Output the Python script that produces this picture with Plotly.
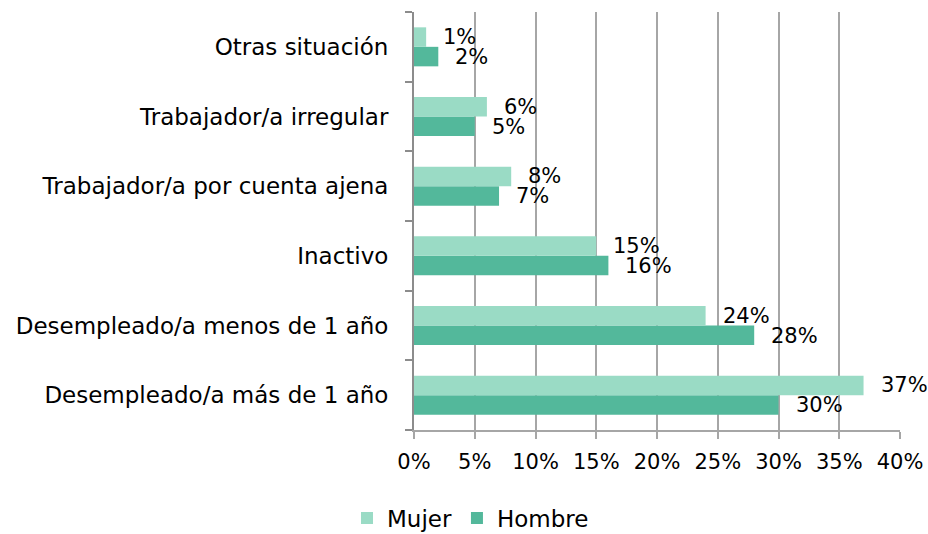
import plotly.graph_objects as go

categories = [
    "Desempleado/a más de 1 año",
    "Desempleado/a menos de 1 año",
    "Inactivo",
    "Trabajador/a por cuenta ajena",
    "Trabajador/a irregular",
    "Otras situación",
]
mujer = [37, 24, 15, 8, 6, 1]
hombre = [30, 28, 16, 7, 5, 2]
x_ticks = [0, 5, 10, 15, 20, 25, 30, 35, 40]
x_tick_labels = [f"{v}%" for v in x_ticks]

col_mujer = "#9ADBC5"
col_hombre = "#53B89B"
font_fam = "DejaVu Sans"

fig = go.Figure()
fig.add_trace(go.Bar(
    y=categories, x=hombre, orientation="h", name="Hombre",
    marker=dict(color=col_hombre, line=dict(width=0)), legendrank=2,
))
fig.add_trace(go.Bar(
    y=categories, x=mujer, orientation="h", name="Mujer",
    marker=dict(color=col_mujer, line=dict(width=0)), legendrank=1,
))

annotations = []
for cat, v in zip(categories, mujer):
    annotations.append(dict(x=v, y=cat, xref="x", yref="y", text=f"{v}%",
                            showarrow=False, xanchor="left", yanchor="middle",
                            xshift=15, yshift=10,
                            font=dict(family=font_fam, size=21, color="#000000")))
for cat, v in zip(categories, hombre):
    annotations.append(dict(x=v, y=cat, xref="x", yref="y", text=f"{v}%",
                            showarrow=False, xanchor="left", yanchor="middle",
                            xshift=15, yshift=-10,
                            font=dict(family=font_fam, size=21, color="#000000")))

fig.update_layout(
    width=928, height=534,
    margin=dict(l=414, r=28, t=12, b=104, pad=0, autoexpand=False),
    paper_bgcolor="white", plot_bgcolor="white",
    barmode="group", bargap=0.44, bargroupgap=0.0,
    font=dict(family=font_fam, size=23, color="#000000"),
    showlegend=True,
    legend=dict(orientation="h", xref="container", yref="container",
                x=0.507, xanchor="center", y=0.03, yanchor="middle",
                font=dict(family=font_fam, size=23, color="#000000"),
                traceorder="normal"),
    annotations=annotations,
)
fig.update_xaxes(
    range=[0, 40], tickvals=x_ticks, ticktext=x_tick_labels,
    showgrid=True, gridcolor="#A6A6A6", gridwidth=2,
    showline=True, linecolor="#A6A6A6", linewidth=2,
    ticks="outside", ticklen=7, tickcolor="#A6A6A6", tickwidth=2,
    ticklabelstandoff=5,
    zeroline=False, tickfont=dict(family=font_fam, size=21, color="#000000"),
    fixedrange=True, automargin=False,
)
fig.update_yaxes(
    categoryorder="array", categoryarray=categories,
    showgrid=False, showline=True, linecolor="#8C8C8C", linewidth=2,
    ticks="outside", ticklen=7, tickcolor="#8C8C8C", tickwidth=2,
    tickson="boundaries", ticklabelstandoff=19,
    tickfont=dict(family=font_fam, size=23, color="#000000"),
    zeroline=False, fixedrange=True, automargin=False,
)

fig.write_html("out.html", config={"displayModeBar": False},
               post_script="document.body.style.margin='0';")
